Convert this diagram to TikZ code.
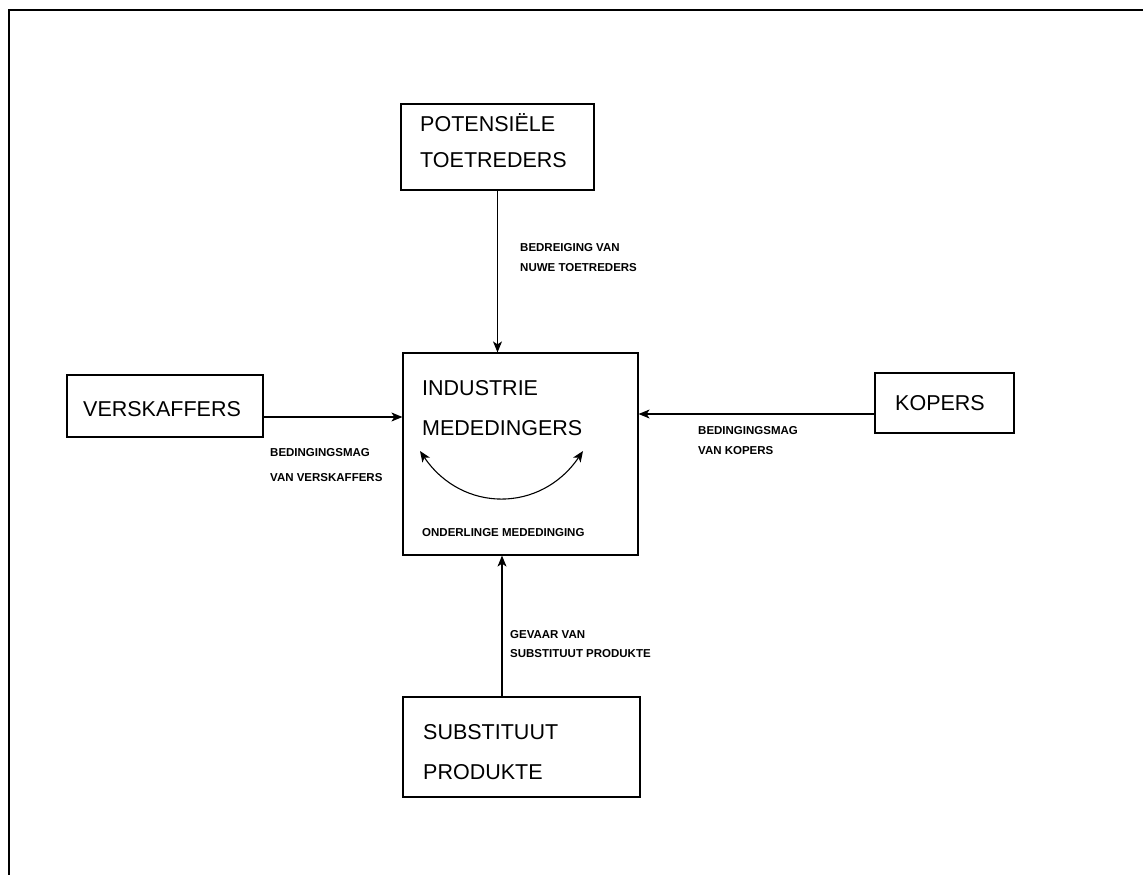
\documentclass[tikz,border=0pt]{standalone}
\usepackage{fontspec}
\setmainfont{Liberation Sans}
\usetikzlibrary{arrows.meta,calc}
\begin{document}
\begin{tikzpicture}[x=1pt,y=-1pt,
  box/.style={draw,line width=1.2pt,inner sep=0pt},
  big/.style={anchor=west,inner sep=0pt,font=\fontsize{21.5}{24}\selectfont},
  small/.style={anchor=west,inner sep=0pt,font=\bfseries\fontsize{11.5}{13}\selectfont},
  tip/.style={Stealth[length=11pt,width=9pt,inset=3pt]},
  arr/.style={line width=1.1pt,-{Stealth[length=11pt,width=9pt,inset=3pt]}},
  frameline/.style={line width=1.6pt}]
\useasboundingbox (0,0) rectangle (1143,875);
% frame
\coordinate (ftl) at (9,10);
\coordinate (ftr) at (1143,10);
\coordinate (fbl) at (9,875);
\draw[frameline] (ftr) -- (ftl) -- (fbl);
% boxes
\node[box,minimum width=193pt,minimum height=86pt] (pot) at (497.5,147) {};
\node[box,minimum width=235pt,minimum height=202pt] (ind) at (520.5,454) {};
\node[box,minimum width=196pt,minimum height=62pt] (ver) at (165,406) {};
\node[box,minimum width=139pt,minimum height=60pt] (kop) at (944.5,403) {};
\node[box,minimum width=237pt,minimum height=100pt] (sub) at (521.5,747) {};
% box texts
\node[big] (pot1) at (420,123) {POTENSIËLE};
\node[big] (pot2) at (420,160) {TOETREDERS};
\node[big] (ind1) at (422,388) {INDUSTRIE};
\node[big] (ind2) at (422,428) {MEDEDINGERS};
\node[big] (ver1) at (83,409) {VERSKAFFERS};
\node[big] (kop1) at (895,403) {KOPERS};
\node[big] (sub1) at (423,732) {SUBSTITUUT};
\node[big] (sub2) at (423,772) {PRODUKTE};
\node[small] (onm) at (422,533) {ONDERLINGE MEDEDINGING};
% rivalry arrow
\coordinate (ra) at (420,451);
\coordinate (rb) at (583,451);
\draw[line width=1.1pt,{Stealth[length=11pt,width=9pt,inset=3pt]}-{Stealth[length=11pt,width=9pt,inset=3pt]}] (ra) .. controls (462,513) and (541,513) .. (rb);
% connectors
\draw[arr] (pot.south) -- (pot.south |- ind.north);
\draw[arr] ($(ver.east)+(0,11)$) coordinate (va) -- (va -| ind.west);
\draw[arr] ($(kop.west)+(0,11)$) coordinate (ka) -- (ka -| ind.east);
\draw[arr] ($(sub.north)+(-19.5,0)$) coordinate (sa) -- (sa |- ind.south);
% labels
\node[small] (l1a) at (520,248) {BEDREIGING VAN};
\node[small] (l1b) at (520,268) {NUWE TOETREDERS};
\node[small] (l2a) at (270,453) {BEDINGINGSMAG};
\node[small] (l2b) at (270,478) {VAN VERSKAFFERS};
\node[small] (l3a) at (698,431) {BEDINGINGSMAG};
\node[small] (l3b) at (698,451) {VAN KOPERS};
\node[small] (l4a) at (510,635) {GEVAAR VAN};
\node[small] (l4b) at (510,654) {SUBSTITUUT PRODUKTE};
\end{tikzpicture}
\end{document}
